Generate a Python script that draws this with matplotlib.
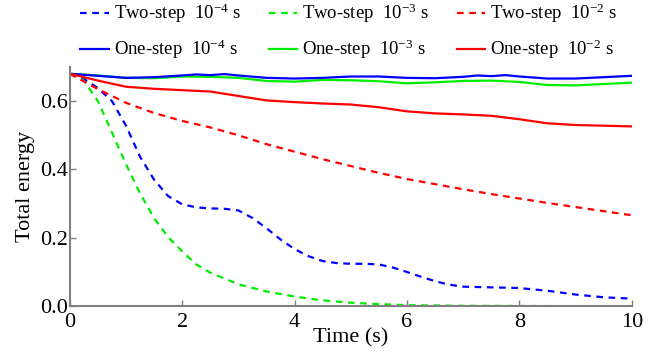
import matplotlib
matplotlib.use("Agg")
import matplotlib.pyplot as plt

plt.rcParams['font.family'] = ['Liberation Serif', 'DejaVu Serif']
plt.rcParams['mathtext.default'] = 'regular'

# Two-step curves
t_two_4 = [0, 0.25, 0.5, 0.75, 1.0, 1.25, 1.5, 1.75, 2.0, 2.25, 2.5, 2.75, 3.0, 3.25, 3.5, 3.75,
           4.0, 4.25, 4.5, 4.75, 5.0, 5.25, 5.5, 5.75, 6.0, 6.25, 6.5, 6.75, 7.0, 7.5, 8.0, 8.5,
           9.0, 9.5, 10]
e_two_4 = [0.68, 0.665, 0.638, 0.60, 0.528, 0.437, 0.37, 0.322, 0.298, 0.289, 0.286, 0.285, 0.28,
           0.258, 0.228, 0.195, 0.167, 0.146, 0.132, 0.126, 0.124, 0.124, 0.122, 0.113, 0.10,
           0.086, 0.073, 0.063, 0.057, 0.055, 0.053, 0.045, 0.034, 0.026, 0.022]

t_two_3 = [0, 0.25, 0.5, 0.75, 1.0, 1.25, 1.5, 1.75, 2.0, 2.25, 2.5, 3.0, 3.5, 4.0, 4.5, 5.0,
           5.5, 6.0, 7.0, 8.0, 9.0, 10]
e_two_3 = [0.68, 0.66, 0.60, 0.508, 0.415, 0.33, 0.257, 0.202, 0.16, 0.122, 0.098, 0.064, 0.043,
           0.028, 0.017, 0.010, 0.006, 0.003, 0.001, 0.0005, 0.0, 0.0]

t_two_2 = [0, 0.5, 1.0, 1.5, 2.0, 2.5, 3.0, 3.5, 4.0, 4.5, 5.0, 5.5, 6.0, 6.5, 7.0, 7.5, 8.0,
           8.5, 9.0, 9.5, 10]
e_two_2 = [0.68, 0.635, 0.595, 0.565, 0.542, 0.523, 0.50, 0.474, 0.452, 0.43, 0.41, 0.39, 0.372,
           0.357, 0.342, 0.328, 0.315, 0.302, 0.29, 0.278, 0.266]

# One-step curves
t_one_4 = [0, 0.5, 1.0, 1.5, 2.0, 2.25, 2.5, 2.75, 3.0, 3.5, 4.0, 4.5, 5.0, 5.5, 6.0, 6.5, 7.0,
           7.25, 7.5, 7.75, 8.0, 8.5, 9.0, 9.5, 10]
e_one_4 = [0.68, 0.674, 0.668, 0.67, 0.675, 0.678, 0.676, 0.679, 0.675, 0.668, 0.666, 0.668,
           0.672, 0.672, 0.668, 0.667, 0.671, 0.675, 0.673, 0.676, 0.672, 0.666, 0.666, 0.670, 0.674]

t_one = [0, 0.5, 1.0, 1.5, 2.0, 2.5, 3.0, 3.5, 4.0, 4.5, 5.0, 5.5, 6.0, 6.5, 7.0, 7.5, 8.0,
         8.5, 9.0, 9.5, 10]
e_one_3 = [0.68, 0.675, 0.668, 0.667, 0.672, 0.671, 0.668, 0.659, 0.657, 0.662, 0.661, 0.658,
           0.652, 0.655, 0.659, 0.66, 0.656, 0.647, 0.646, 0.65, 0.654]
e_one_2 = [0.68, 0.66, 0.642, 0.636, 0.632, 0.628, 0.615, 0.602, 0.597, 0.593, 0.59, 0.582, 0.57,
           0.564, 0.561, 0.557, 0.547, 0.535, 0.53, 0.528, 0.526]

fig = plt.figure(figsize=(6.65, 3.56), dpi=100)
ax = fig.add_axes([0.105, 0.140, 0.845, 0.672])

dash = (0, (3, 2.5))
lw = 1.6
l1, = ax.plot(t_two_4, e_two_4, color='#0000ff', ls=dash, lw=lw)
l3, = ax.plot(t_two_3, e_two_3, color='#00ee00', ls=dash, lw=lw)
l5, = ax.plot(t_two_2, e_two_2, color='#ff0000', ls=dash, lw=lw)
l4, = ax.plot(t_one, e_one_3, color='#00ee00', lw=lw)
l2, = ax.plot(t_one_4, e_one_4, color='#0000ff', lw=lw)
l6, = ax.plot(t_one, e_one_2, color='#ff0000', lw=lw)

ax.set_xlim(0, 10)
ax.set_ylim(0, 0.70)
ax.set_xticks([0, 2, 4, 6, 8, 10])
ax.set_yticks([0.0, 0.2, 0.4, 0.6])
ax.set_yticklabels(['0.0', '0.2', '0.4', '0.6'])
ax.tick_params(direction='in', length=4, width=1, colors='#808080', labelcolor='black',
               labelsize=16, pad=1)
ax.tick_params(axis='x', pad=5)
for s in ['top', 'right']:
    ax.spines[s].set_visible(False)
for s in ['left', 'bottom']:
    ax.spines[s].set_color('#808080')
    ax.spines[s].set_linewidth(1.5)

ax.set_xlabel('Time (s)', fontsize=16, labelpad=-3)
ax.set_ylabel('Total energy', fontsize=16, labelpad=4)

handles = [l1, l2, l3, l4, l5, l6]
labels = ['Two-step  10$^{-4}$ s', 'One-step  10$^{-4}$ s',
          'Two-step  10$^{-3}$ s', 'One-step  10$^{-3}$ s',
          'Two-step  10$^{-2}$ s', 'One-step  10$^{-2}$ s']
fig.legend(handles, labels, ncol=3, loc='upper left', bbox_to_anchor=(0.121, 0.995),
           frameon=False, fontsize=13.5, handlelength=1.5, handletextpad=0.28,
           columnspacing=1.5, labelspacing=0.68, borderpad=0, borderaxespad=0)

fig.savefig('out.png', dpi=100)
